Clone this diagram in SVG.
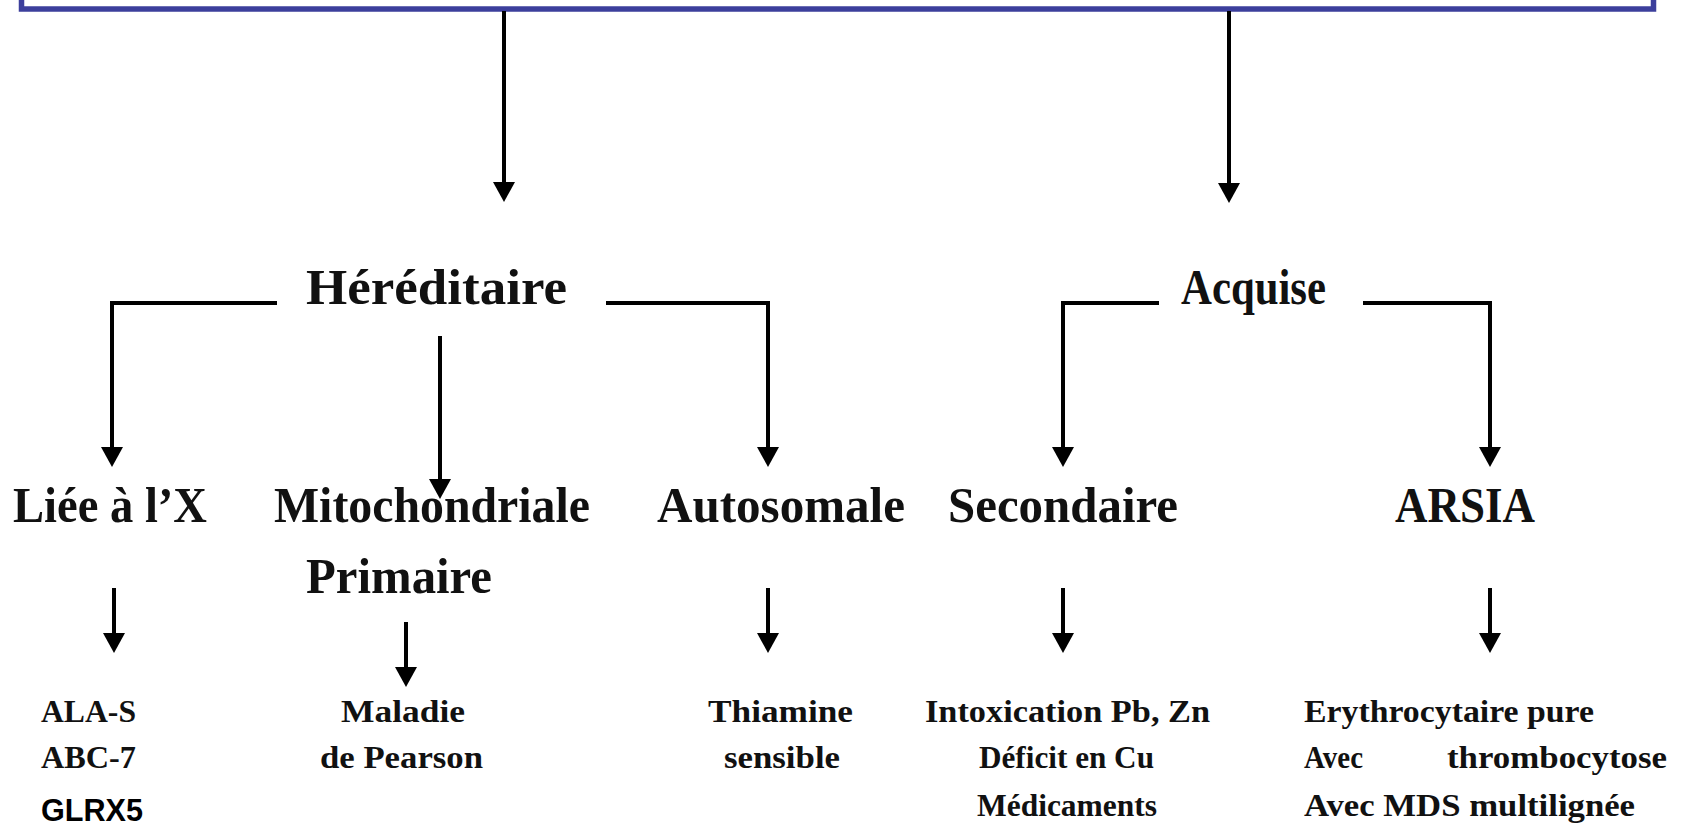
<svg xmlns="http://www.w3.org/2000/svg" width="1683" height="826" viewBox="0 0 1683 826">
<style>
.ser{font-family:"Liberation Serif","Times New Roman",serif;font-weight:bold;fill:#111;}
.l1{font-size:51px;}
.l3{font-size:32px;}
.sans{font-family:"Liberation Sans",Arial,sans-serif;font-weight:bold;font-size:31px;fill:#000;}
.con{fill:none;stroke:#000;stroke-width:4;marker-end:url(#ah);}
</style>
<defs>
<marker id="ah" markerUnits="userSpaceOnUse" viewBox="0 -11 20 22" refX="0" refY="0" markerWidth="20" markerHeight="22" orient="auto">
<path d="M0,-11 L20,0 L0,11 Z" fill="#000"/>
</marker>
</defs>
<rect width="1683" height="826" fill="#fff"/>
<g id="top-box">
<rect x="21.5" y="-30" width="1632" height="39" fill="#fff" stroke="#3c3f9c" stroke-width="5.5"/>
</g>
<g id="connectors">
<path class="con" d="M504 11 V182"/>
<path class="con" d="M1229 11 V183"/>
<path class="con" d="M277 303 H112 V447"/>
<path class="con" d="M440 336 V479"/>
<path class="con" d="M606 303 H768 V447"/>
<path class="con" d="M1159 303 H1063 V447"/>
<path class="con" d="M1363 303 H1490 V447"/>
<path class="con" d="M114 588 V633"/>
<path class="con" d="M406 622 V667"/>
<path class="con" d="M768 588 V633"/>
<path class="con" d="M1063 588 V633"/>
<path class="con" d="M1490 588 V633"/>
</g>
<g id="hereditaire"><text class="ser l1" x="306" y="304" textLength="261" lengthAdjust="spacingAndGlyphs">Héréditaire</text></g>
<g id="acquise"><text class="ser l1" x="1181" y="304" textLength="145" lengthAdjust="spacingAndGlyphs">Acquise</text></g>
<g id="liee-x"><text class="ser l1" x="13" y="522" textLength="194" lengthAdjust="spacingAndGlyphs">Liée à l’X</text></g>
<g id="mito"><text class="ser l1" x="274" y="522" textLength="316" lengthAdjust="spacingAndGlyphs">Mitochondriale</text>
<text class="ser l1" x="306" y="593" textLength="186" lengthAdjust="spacingAndGlyphs">Primaire</text></g>
<g id="autosomale"><text class="ser l1" x="657" y="522" textLength="248" lengthAdjust="spacingAndGlyphs">Autosomale</text></g>
<g id="secondaire"><text class="ser l1" x="948" y="522" textLength="230" lengthAdjust="spacingAndGlyphs">Secondaire</text></g>
<g id="arsia"><text class="ser l1" x="1395" y="522" textLength="140" lengthAdjust="spacingAndGlyphs">ARSIA</text></g>
<g id="liee-x-items">
<text class="ser l3" x="41" y="722" textLength="95" lengthAdjust="spacingAndGlyphs">ALA-S</text>
<text class="ser l3" x="41" y="768" textLength="95" lengthAdjust="spacingAndGlyphs">ABC-7</text>
<text class="sans" x="41" y="821" textLength="102" lengthAdjust="spacingAndGlyphs">GLRX5</text>
</g>
<g id="pearson">
<text class="ser l3" x="341" y="722" textLength="124" lengthAdjust="spacingAndGlyphs">Maladie</text>
<text class="ser l3" x="320" y="768" textLength="163" lengthAdjust="spacingAndGlyphs">de Pearson</text>
</g>
<g id="thiamine">
<text class="ser l3" x="708" y="722" textLength="145" lengthAdjust="spacingAndGlyphs">Thiamine</text>
<text class="ser l3" x="724" y="768" textLength="116" lengthAdjust="spacingAndGlyphs">sensible</text>
</g>
<g id="secondaire-items">
<text class="ser l3" x="925" y="722" textLength="285" lengthAdjust="spacingAndGlyphs">Intoxication Pb, Zn</text>
<text class="ser l3" x="979" y="768" textLength="175" lengthAdjust="spacingAndGlyphs">Déficit en Cu</text>
<text class="ser l3" x="977" y="816" textLength="180" lengthAdjust="spacingAndGlyphs">Médicaments</text>
</g>
<g id="arsia-items">
<text class="ser l3" x="1304" y="722" textLength="290" lengthAdjust="spacingAndGlyphs">Erythrocytaire pure</text>
<text class="ser l3" y="768"><tspan x="1304" textLength="59" lengthAdjust="spacingAndGlyphs">Avec</tspan><tspan x="1447" textLength="220" lengthAdjust="spacingAndGlyphs">thrombocytose</tspan></text>
<text class="ser l3" x="1304" y="816" textLength="331" lengthAdjust="spacingAndGlyphs">Avec MDS multilignée</text>
</g>
</svg>
